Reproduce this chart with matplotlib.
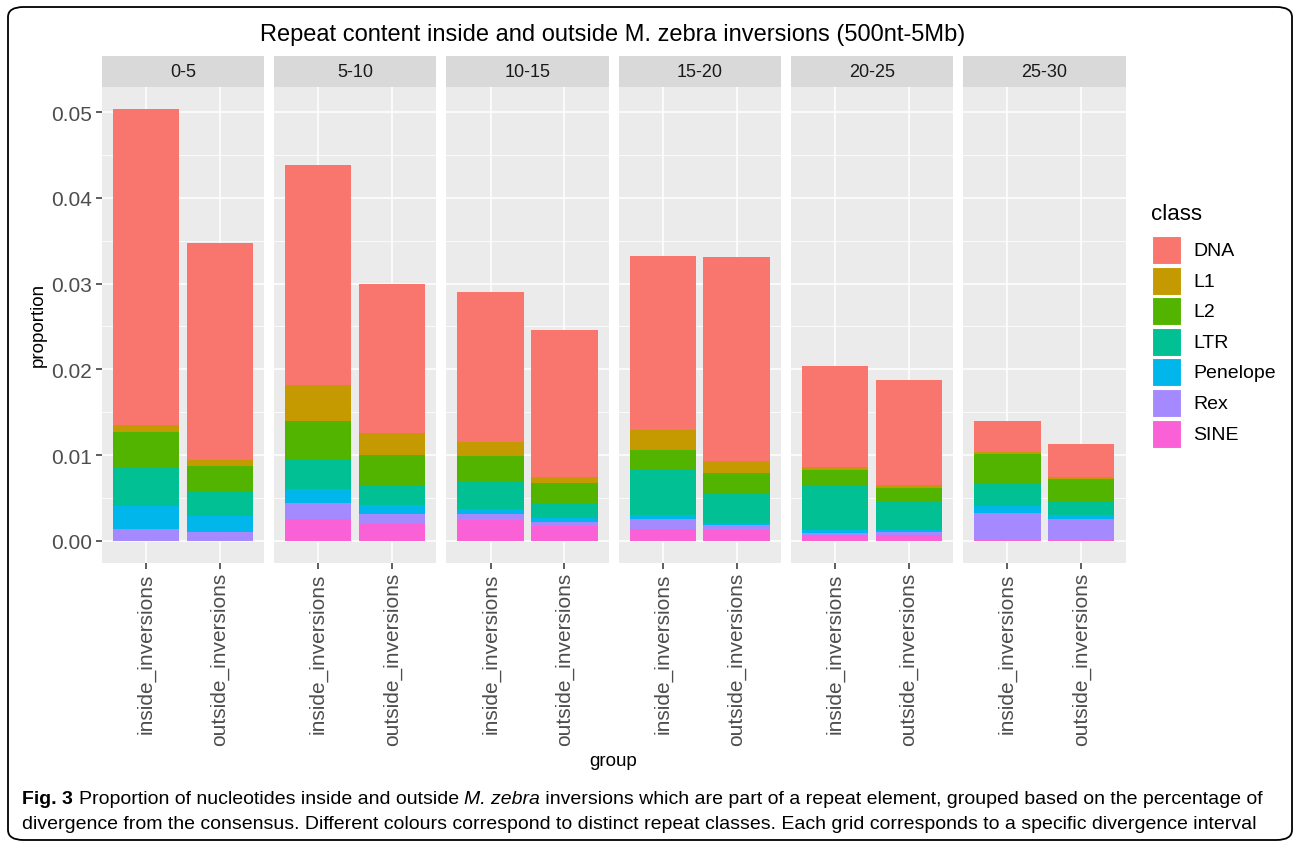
import numpy as np
import matplotlib.pyplot as plt
from matplotlib.patches import FancyBboxPatch, Rectangle
from matplotlib import font_manager

# Divergence bins (facets) and groups
BINS = ["0-5", "5-10", "10-15", "15-20", "20-25", "25-30"]
GROUPS = ["inside_inversions", "outside_inversions"]

# Repeat classes, stacked from the bottom up
CLASSES = ["SINE", "Rex", "Penelope", "LTR", "L2", "L1", "DNA"]
COLORS = {
    "DNA": "#F8766D", "L1": "#C49A00", "L2": "#53B400", "LTR": "#00C094",
    "Penelope": "#00B6EB", "Rex": "#A58AFF", "SINE": "#FB61D7",
}
LEGEND_ORDER = ["DNA", "L1", "L2", "LTR", "Penelope", "Rex", "SINE"]

# Proportions per class: one row per bin, columns = (inside, outside)
SINE = [[0.0, 0.0], [0.0026, 0.0020], [0.00245, 0.00175],
        [0.0014, 0.00125], [0.0007, 0.0007], [0.0001, 0.0001]]
REX = [[0.0014, 0.00105], [0.0018, 0.0011], [0.00074, 0.0005],
       [0.0012, 0.00065], [0.00027, 0.00035], [0.0032, 0.0024]]
PENELOPE = [[0.0027, 0.0019], [0.0017, 0.0011], [0.00058, 0.0004],
            [0.00044, 0.00024], [0.0003, 0.00023], [0.00075, 0.00054]]
LTR = [[0.0044, 0.0028], [0.0034, 0.0022], [0.0032, 0.0016],
       [0.0053, 0.0034], [0.0053, 0.0034], [0.0026, 0.0016]]
L2 = [[0.0042, 0.0030], [0.0045, 0.0036], [0.0029, 0.0025],
      [0.0023, 0.0024], [0.0017, 0.0015], [0.0035, 0.0026]]
L1 = [[0.0008, 0.0007], [0.0042, 0.0026], [0.0017, 0.0007],
      [0.0023, 0.0014], [0.0004, 0.00035], [0.00016, 0.00016]]
DNA = [[0.0369, 0.0253], [0.0256, 0.0173], [0.0174, 0.0171],
       [0.0203, 0.0238], [0.0117, 0.0122], [0.0037, 0.0039]]

VALUES = {"SINE": SINE, "Rex": REX, "Penelope": PENELOPE, "LTR": LTR,
          "L2": L2, "L1": L1, "DNA": DNA}

YTICKS = [0.0, 0.01, 0.02, 0.03, 0.04, 0.05]

installed = {f.name for f in font_manager.fontManager.ttflist}
SANS = "Liberation Sans" if "Liberation Sans" in installed else "DejaVu Sans"
NARROW = "Liberation Sans Narrow" if "Liberation Sans Narrow" in installed else SANS
plt.rcParams["font.family"] = SANS

W, H = 1295, 845
fig = plt.figure(figsize=(W / 100, H / 100), dpi=100)


def px_rect(x0, y0, x1, y1):
    # pixel box (top-left origin) -> figure fraction
    return [x0 / W, 1 - y1 / H, (x1 - x0) / W, (y1 - y0) / H]


# outer caption frame
frame = FancyBboxPatch((8 / W, 4 / H), (1284 / W), (833 / H),
                       boxstyle="round,pad=0,rounding_size=0.012",
                       transform=fig.transFigure, fill=False,
                       edgecolor="black", linewidth=1.3)
fig.patches.append(frame)

# y range with ggplot style 5% expansion
totals = np.array([[sum(VALUES[c][i][j] for c in CLASSES) for j in range(2)]
                   for i in range(len(BINS))])
ymax = totals.max()
ylim = (-0.05 * ymax, ymax * 1.05)

panel_left, panel_w, step = 101.7, 162.3, 172.3
strip_top, strip_bot, panel_bot = 57, 88, 563.5

axes = []
for i, b in enumerate(BINS):
    x0 = panel_left + i * step
    ax = fig.add_axes(px_rect(x0, strip_bot, x0 + panel_w, panel_bot))
    ax.set_facecolor("#EBEBEB")
    ax.set_xlim(0.4, 2.6)
    ax.set_ylim(*ylim)
    for s in ax.spines.values():
        s.set_visible(False)
    ax.set_axisbelow(True)
    ax.set_yticks(YTICKS)
    ax.set_yticks([0.005, 0.015, 0.025, 0.035, 0.045], minor=True)
    ax.grid(True, which="major", color="white", linewidth=1.1)
    ax.grid(True, which="minor", axis="y", color="white", linewidth=0.55)
    ax.set_xticks([1, 2])
    ax.set_xticklabels(GROUPS, rotation=90, fontsize=15, color="#4D4D4D")
    ax.tick_params(axis="x", length=4, width=1.1, color="#333333", pad=3)
    ax.tick_params(axis="y", which="minor", length=0)
    if i == 0:
        ax.set_yticklabels([f"{t:.2f}" for t in YTICKS], fontsize=15, color="#4D4D4D")
        ax.tick_params(axis="y", which="major", length=4, width=1.1, color="#333333", pad=3)
    else:
        ax.tick_params(axis="y", which="major", length=0, labelleft=False)

    bottom = np.zeros(2)
    for c in CLASSES:
        vals = np.array(VALUES[c][i])
        ax.bar([1, 2], vals, width=0.9, bottom=bottom, color=COLORS[c],
               linewidth=0)
        bottom += vals

    # facet strip
    sax = fig.add_axes(px_rect(x0, strip_top, x0 + panel_w, strip_bot))
    sax.set_facecolor("#D9D9D9")
    sax.set_xticks([])
    sax.set_yticks([])
    for s in sax.spines.values():
        s.set_visible(False)
    sax.text(0.5, 0.5, b, ha="center", va="center", fontsize=13,
             color="#1A1A1A", transform=sax.transAxes)
    axes.append(ax)

fig.text(613 / W, 1 - 35 / H, "Repeat content inside and outside M. zebra inversions (500nt-5Mb)",
         ha="center", va="center", fontsize=17, color="black")
fig.text(38 / W, 1 - 325 / H, "proportion", rotation=90, ha="center",
         va="center", fontsize=13.5, color="black")
fig.text(613 / W, 1 - 762 / H, "group", ha="center", va="center",
         fontsize=13.5, color="black")

# legend
fig.text(1151 / W, 1 - 214 / H, "class", ha="left", va="center", fontsize=16)
for k, c in enumerate(LEGEND_ORDER):
    ky = 237 + k * 30.6
    fig.patches.append(Rectangle((1152 / W, 1 - (ky + 28) / H), 29 / W, 28 / H,
                                 transform=fig.transFigure, facecolor=COLORS[c],
                                 edgecolor="white", linewidth=0.8))
    fig.text(1193 / W, 1 - (ky + 14.5) / H, c, ha="left", va="center", fontsize=14)

# caption
cap_y1 = 1 - 800 / H
t = fig.text(22 / W, cap_y1, "Fig. 3", ha="left", va="center", fontsize=14,
             fontweight="bold", family=NARROW)
fig.canvas.draw()
bb = t.get_window_extent()
x = bb.x1 / W + 6 / W
parts = [("Proportion of nucleotides inside and outside ", "normal"),
         ("M. zebra", "italic"),
         (" inversions which are part of a repeat element, grouped based on the percentage of", "normal")]
for txt, style in parts:
    tt = fig.text(x, cap_y1, txt, ha="left", va="center", fontsize=14,
                  style=style, family=NARROW)
    fig.canvas.draw()
    x = tt.get_window_extent().x1 / W
fig.text(22 / W, 1 - 825 / H,
         "divergence from the consensus. Different colours correspond to distinct repeat classes. "
         "Each grid corresponds to a specific divergence interval",
         ha="left", va="center", fontsize=14, family=NARROW)

fig.savefig("out.png", dpi=100)
